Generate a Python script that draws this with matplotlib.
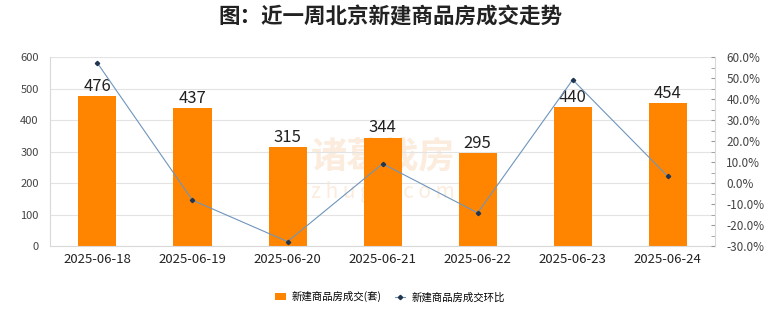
import matplotlib
matplotlib.use("Agg")
import matplotlib.pyplot as plt
from matplotlib.ticker import MultipleLocator, FuncFormatter
import numpy as np

plt.rcParams['font.family'] = ['Noto Sans CJK SC', 'DejaVu Sans']

dates = ["2025-06-18", "2025-06-19", "2025-06-20", "2025-06-21", "2025-06-22", "2025-06-23", "2025-06-24"]
volumes = [476, 437, 315, 344, 295, 440, 454]
ring_ratio = [57.1, -8.2, -27.9, 9.2, -14.2, 49.2, 3.2]
left_ticks = [0, 100, 200, 300, 400, 500, 600]
right_ticks = [-30, -20, -10, 0, 10, 20, 30, 40, 50, 60]

fig = plt.figure(figsize=(7.8, 3.28), dpi=100)
ax = fig.add_axes([0.064, 0.25, 0.853, 0.576])
x = np.arange(len(dates))

ax.bar(x, volumes, width=0.4, color="#FF8500", zorder=2, label="新建商品房成交(套)")
for xi, v in zip(x, volumes):
    ax.text(xi, v + 4, str(v), ha="center", va="bottom", fontsize=12, color="#222222", zorder=5)

ax.set_xlim(-0.5, len(dates) - 0.5)
ax.set_ylim(0, 600)
ax.set_yticks(left_ticks)
ax.set_xticks(x)
ax.set_xticklabels(dates, fontsize=9.5, color="#222222")
ax.tick_params(axis="y", labelsize=8, colors="#444444", length=0, pad=8)
ax.tick_params(axis="x", length=0, pad=5)
ax.grid(axis="y", color="#E3E3E3", linewidth=0.8, zorder=0)
for s in ["top", "right"]:
    ax.spines[s].set_visible(False)
ax.spines["left"].set_color("#D9D9D9")
ax.spines["bottom"].set_color("#D9D9D9")

# watermark
ax.text(3, 280, "诸葛找房", ha="center", va="center", fontsize=26, color="#F5C9A0", alpha=0.35, zorder=1, fontweight="bold")
ax.text(3, 170, "z h u g e . c o m", ha="center", va="center", fontsize=15, color="#F5C9A0", alpha=0.35, zorder=1)

ax2 = ax.twinx()
ax2.plot(x, ring_ratio, color="#6E95BD", linewidth=0.8, marker="D", markersize=2.2,
         markerfacecolor="#1F3550", markeredgecolor="#1F3550", zorder=4, label="新建商品房成交环比")
ax2.set_ylim(-30, 60)
ax2.set_yticks(right_ticks)
ax2.yaxis.set_major_formatter(FuncFormatter(lambda v, p: f"{v:.1f}%"))
ax2.yaxis.set_minor_locator(MultipleLocator(5))
ax2.tick_params(axis="y", which="both", direction="in", length=3, colors="#444444", labelsize=8.5, pad=8)
ax2.tick_params(axis="y", which="both", color="#999999")
for s in ["top", "left", "bottom"]:
    ax2.spines[s].set_visible(False)
ax2.spines["right"].set_color("#D9D9D9")

fig.suptitle("图：近一周北京新建商品房成交走势", x=0.5, y=0.98, fontsize=15.5, fontweight="bold", color="#222222")

h1, l1 = ax.get_legend_handles_labels()
h2, l2 = ax2.get_legend_handles_labels()
fig.legend(h1 + h2, l1 + l2, loc="center", bbox_to_anchor=(0.5, 0.095), ncol=2, frameon=False,
           fontsize=7.5, handlelength=1.0, handleheight=0.7, columnspacing=1.2, handletextpad=0.6)

fig.savefig("out.png", dpi=100)
